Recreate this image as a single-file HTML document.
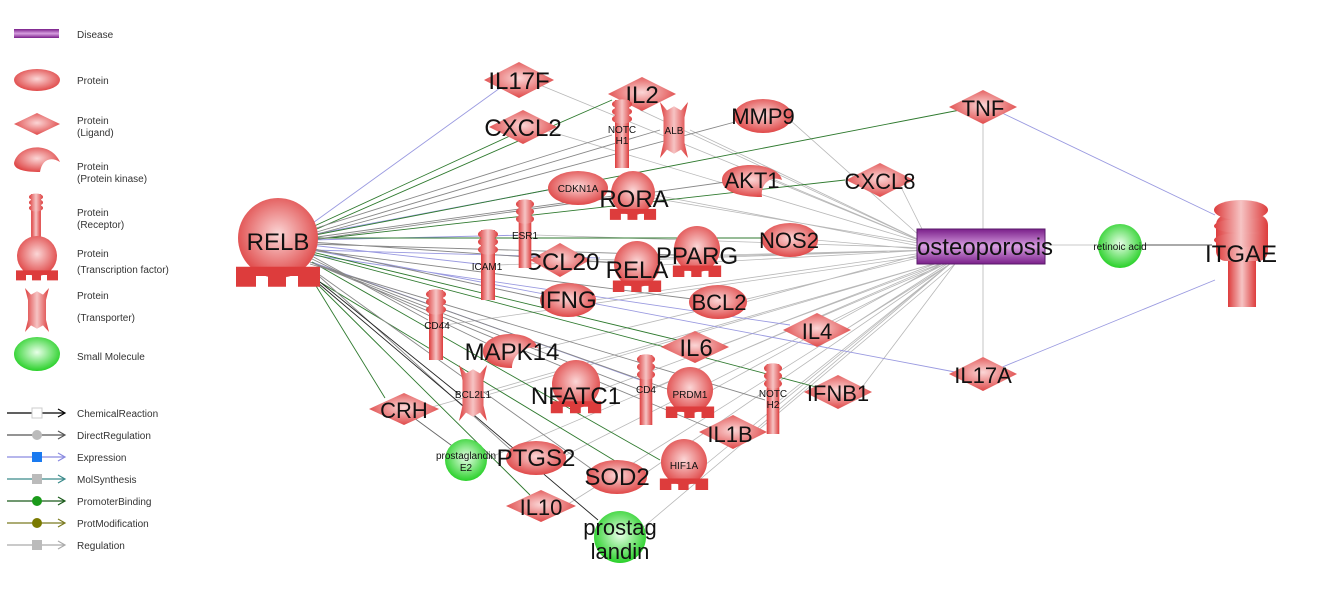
<!DOCTYPE html>
<html><head><meta charset="utf-8"><style>
html,body{margin:0;padding:0;background:#fff;}
svg{display:block;font-family:"Liberation Sans",sans-serif;}
</style></head><body>
<svg width="1318" height="593" viewBox="0 0 1318 593" xmlns="http://www.w3.org/2000/svg">
<defs>
<radialGradient id="r" cx="0.5" cy="0.45" r="0.6"><stop offset="0" stop-color="#fbd6d6"/><stop offset="1" stop-color="#dd3c3c"/></radialGradient>
<linearGradient id="rh" x1="0" y1="0" x2="1" y2="0"><stop offset="0" stop-color="#dd3c3c"/><stop offset="0.5" stop-color="#f6c4c4"/><stop offset="1" stop-color="#dd3c3c"/></linearGradient>
<radialGradient id="g" cx="0.5" cy="0.45" r="0.6"><stop offset="0" stop-color="#e8ffe8"/><stop offset="1" stop-color="#18cc18"/></radialGradient>
<linearGradient id="p" x1="0" y1="0" x2="0" y2="1"><stop offset="0" stop-color="#7a1f8a"/><stop offset="0.5" stop-color="#d79ee0"/><stop offset="1" stop-color="#7a1f8a"/></linearGradient>
<g id="tf"><circle cx="0" cy="0" r="1" fill="url(#r)"/><path d="M-1.05,0.72H1.05V1.22H0.5V0.95H0.2V1.22H-0.25V0.95H-0.55V1.22H-1.05Z" fill="#dd3c3c"/></g>
<g id="rec"><rect x="-0.7" y="0" width="1.4" height="1" fill="url(#rh)"/><ellipse cx="0" cy="0.06" rx="1" ry="0.07" fill="url(#rh)"/><ellipse cx="0" cy="0.17" rx="1" ry="0.07" fill="url(#rh)"/><ellipse cx="0" cy="0.28" rx="1" ry="0.07" fill="url(#rh)"/></g>
<g id="tr"><path d="M-1,-1 L-0.5,-0.7 L0,-0.85 L0.5,-0.7 L1,-1 L0.75,-0.45 L0.75,0.45 L1,1 L0.5,0.7 L0,0.85 L-0.5,0.7 L-1,1 L-0.75,0.45 L-0.75,-0.45Z" fill="url(#rh)"/></g>
</defs>

<!-- Legend -->
<g font-size="10" fill="#333">
<rect x="14" y="29" width="45" height="9" fill="url(#p)"/><text x="77" y="38">Disease</text>
<ellipse cx="37" cy="80" rx="23" ry="11" fill="url(#r)"/><text x="77" y="84">Protein</text>
<polygon points="14,124 37,113 60,124 37,135" fill="url(#r)"/><text x="77" y="124">Protein</text><text x="77" y="136">(Ligand)</text>
<path d="M14,163 C18,145 50,140 60,162 C50,156 42,160 40,172 C26,172 14,170 14,163Z" fill="url(#r)"/><text x="77" y="170">Protein</text><text x="77" y="182">(Protein kinase)</text>
<g transform="translate(36,194) scale(7,50)"><use href="#rec"/></g><text x="77" y="216">Protein</text><text x="77" y="228">(Receptor)</text>
<g transform="translate(37,256) scale(20,20)"><use href="#tf"/></g><text x="77" y="257">Protein</text><text x="77" y="273">(Transcription factor)</text>
<g transform="translate(37,310) scale(12,22)"><use href="#tr"/></g><text x="77" y="299">Protein</text><text x="77" y="321">(Transporter)</text>
<ellipse cx="37" cy="354" rx="23" ry="17" fill="url(#g)"/><text x="77" y="360">Small Molecule</text>
<g stroke-width="1.2" fill="none">
<line x1="7" y1="413" x2="64" y2="413" stroke="#000"/><path d="M58,409 L65,413 L58,417" stroke="#000"/>
<line x1="7" y1="435" x2="64" y2="435" stroke="#555"/><path d="M58,431 L65,435 L58,439" stroke="#555"/>
<line x1="7" y1="457" x2="64" y2="457" stroke="#8a8ae0"/><path d="M58,453 L65,457 L58,461" stroke="#8a8ae0"/>
<line x1="7" y1="479" x2="64" y2="479" stroke="#3a8a8a"/><path d="M58,475 L65,479 L58,483" stroke="#3a8a8a"/>
<line x1="7" y1="501" x2="64" y2="501" stroke="#1a5a1a"/><path d="M58,497 L65,501 L58,505" stroke="#1a5a1a"/>
<line x1="7" y1="523" x2="64" y2="523" stroke="#7a7a20"/><path d="M58,519 L65,523 L58,527" stroke="#7a7a20"/>
<line x1="7" y1="545" x2="64" y2="545" stroke="#aaa"/><path d="M58,541 L65,545 L58,549" stroke="#aaa"/>
</g>
<rect x="32" y="408" width="10" height="10" fill="#fff" stroke="#ccc"/>
<circle cx="37" cy="435" r="5" fill="#bbb"/>
<rect x="32" y="452" width="10" height="10" fill="#1a7af0"/>
<rect x="32" y="474" width="10" height="10" fill="#bbb"/>
<circle cx="37" cy="501" r="5" fill="#1a9a1a"/>
<circle cx="37" cy="523" r="5" fill="#7a7a00"/>
<rect x="32" y="540" width="10" height="10" fill="#bbb"/>
<text x="77" y="417">ChemicalReaction</text><text x="77" y="439">DirectRegulation</text><text x="77" y="461">Expression</text><text x="77" y="483">MolSynthesis</text><text x="77" y="505">PromoterBinding</text><text x="77" y="527">ProtModification</text><text x="77" y="549">Regulation</text>
</g>

<!-- edges to osteoporosis -->
<g stroke="#b8b8b8" stroke-width="0.8" fill="none">
<path d="M540,85L930,245 M545,130L930,245 M640,110L930,245 M690,130L930,245 M790,120L930,245 M605,190L930,245 M655,195L930,248 M775,180L930,245 M900,185L930,245 M535,235L930,248 M497,265L930,250 M590,260L930,250 M660,265L930,250 M720,255L930,250 M815,240L930,250 M595,300L930,252 M745,302L930,252 M845,330L950,262 M445,325L930,255 M535,350L930,255 M720,346L940,262 M600,390L945,262 M655,388L945,262 M712,390L945,262 M780,400L950,264 M860,390L955,264 M487,395L940,262 M425,409L940,262 M755,430L950,264 M484,460L945,264 M560,458L945,264 M640,477L950,264 M705,465L950,264 M565,506L950,264 M640,530L955,264"/>
<line x1="983" y1="124" x2="983" y2="229"/><line x1="983" y1="357" x2="983" y2="264"/>
<line x1="1098" y1="245" x2="1045" y2="245"/>
</g>
<!-- edges from RELB -->
<g stroke-width="0.9" fill="none">
<path stroke="#9a9ae0" d="M310,225L500,88 M310,235L548,190 M310,240L525,235 M310,245L487,265 M312,255L790,325 M312,250L955,372 M312,250L600,258 M312,262L640,380"/>
<path stroke="#2f7a2f" d="M310,228L512,135 M310,232L612,100 M310,236L960,110 M310,238L770,238 M310,240L845,180 M312,252L690,343 M312,254L820,388 M305,268L385,398 M305,272L530,495 M312,262L660,460 M300,270L630,470"/>
<path stroke="#888" d="M310,230L612,135 M310,234L660,130 M310,238L620,195 M310,242L615,263 M310,244L675,255 M310,248L548,300 M310,250L700,300 M310,255L428,320 M310,258L490,345 M310,262L640,390 M310,262L670,390 M310,264L765,400 M310,262L715,430 M310,268L520,458 M310,268L600,475 M310,240L740,180 M310,236L735,122"/>
<path stroke="#222" d="M305,270L460,395 M305,272L598,520"/>
<path stroke="#9a9ae0" d="M1215,215L1000,112 M1215,280L1000,368"/>
<path stroke="#555" d="M1212,245L1140,245"/>
<path stroke="#666" d="M410,415L455,448"/>
</g>

<!-- Nodes -->
<g fill="#111" text-anchor="middle">
<g transform="translate(278,238) scale(40,40)"><use href="#tf"/></g>
<text x="278" y="250" font-size="24">RELB</text>
<polygon points="484,80 519,62 554,80 519,98" fill="url(#r)"/><text x="519" y="89" font-size="24">IL17F</text>
<polygon points="489,127 523,110 557,127 523,144" fill="url(#r)"/><text x="523" y="136" font-size="24">CXCL2</text>
<polygon points="608,94 642,77 676,94 642,111" fill="url(#r)"/><text x="642" y="103" font-size="24">IL2</text>
<polygon points="949,107 983,90 1017,107 983,124" fill="url(#r)"/><text x="983" y="116" font-size="22">TNF</text>
<polygon points="846,180 880,163 914,180 880,197" fill="url(#r)"/><text x="880" y="189" font-size="22">CXCL8</text>
<polygon points="530,260 560,243 590,260 560,277" fill="url(#r)"/><text x="562" y="270" font-size="24">CCL20</text>
<polygon points="783,330 817,313 851,330 817,347" fill="url(#r)"/><text x="817" y="339" font-size="22">IL4</text>
<polygon points="661,347 695,331 729,347 695,363" fill="url(#r)"/><text x="696" y="356" font-size="24">IL6</text>
<polygon points="949,374 983,357 1017,374 983,391" fill="url(#r)"/><text x="983" y="383" font-size="22">IL17A</text>
<polygon points="804,392 838,375 872,392 838,409" fill="url(#r)"/><text x="838" y="401" font-size="22">IFNB1</text>
<polygon points="369,409 404,393 439,409 404,425" fill="url(#r)"/><text x="404" y="418" font-size="22">CRH</text>
<polygon points="699,432 733,415 767,432 733,449" fill="url(#r)"/><text x="730" y="442" font-size="22">IL1B</text>
<polygon points="506,506 541,490 576,506 541,522" fill="url(#r)"/><text x="541" y="515" font-size="22">IL10</text>
<ellipse cx="763" cy="116" rx="29" ry="17" fill="url(#r)"/><text x="763" y="124" font-size="22">MMP9</text>
<ellipse cx="578" cy="188" rx="30" ry="17" fill="url(#r)"/><text x="578" y="192" font-size="10">CDKN1A</text>
<path d="M722,180 C722,160 778,160 782,180 C770,175 760,185 762,197 C740,197 722,192 722,180Z" fill="url(#r)"/><text x="752" y="188" font-size="22">AKT1</text>
<ellipse cx="790" cy="240" rx="28" ry="17" fill="url(#r)"/><text x="789" y="248" font-size="22">NOS2</text>
<ellipse cx="568" cy="300" rx="28" ry="17" fill="url(#r)"/><text x="568" y="308" font-size="24">IFNG</text>
<ellipse cx="718" cy="302" rx="29" ry="17" fill="url(#r)"/><text x="719" y="310" font-size="22">BCL2</text>
<path d="M483,350 C485,330 532,328 538,348 C525,345 512,355 512,368 C492,368 482,360 483,350Z" fill="url(#r)"/><text x="512" y="360" font-size="24">MAPK14</text>
<ellipse cx="536" cy="458" rx="30" ry="17" fill="url(#r)"/><text x="536" y="466" font-size="24">PTGS2</text>
<ellipse cx="617" cy="477" rx="30" ry="17" fill="url(#r)"/><text x="617" y="485" font-size="24">SOD2</text>
<g transform="translate(633,193) scale(22,22)"><use href="#tf"/></g><text x="634" y="207" font-size="24">RORA</text>
<g transform="translate(637,264) scale(23,23)"><use href="#tf"/></g><text x="637" y="278" font-size="24">RELA</text>
<g transform="translate(697,249) scale(23,23)"><use href="#tf"/></g><text x="697" y="264" font-size="24">PPARG</text>
<g transform="translate(576,384) scale(24,24)"><use href="#tf"/></g><text x="576" y="404" font-size="24">NFATC1</text>
<g transform="translate(690,390) scale(23,23)"><use href="#tf"/></g><text x="690" y="398" font-size="10">PRDM1</text>
<g transform="translate(684,462) scale(23,23)"><use href="#tf"/></g><text x="684" y="469" font-size="10">HIF1A</text>
<g transform="translate(622,100) scale(10,68)"><use href="#rec"/></g><text x="622" y="133" font-size="10">NOTC</text><text x="622" y="144" font-size="10">H1</text>
<g transform="translate(525,200) scale(9,68)"><use href="#rec"/></g><text x="525" y="239" font-size="10">ESR1</text>
<g transform="translate(488,230) scale(10,70)"><use href="#rec"/></g><text x="487" y="270" font-size="10">ICAM1</text>
<g transform="translate(436,290) scale(10,70)"><use href="#rec"/></g><text x="437" y="329" font-size="10">CD44</text>
<g transform="translate(646,355) scale(9,70)"><use href="#rec"/></g><text x="646" y="393" font-size="10">CD4</text>
<g transform="translate(773,364) scale(9,70)"><use href="#rec"/></g><text x="773" y="397" font-size="10">NOTC</text><text x="773" y="408" font-size="10">H2</text>
<!-- ITGAE -->
<rect x="1228" y="255" width="28" height="52" fill="url(#rh)"/>
<rect x="1216" y="215" width="52" height="46" rx="10" fill="url(#rh)"/>
<ellipse cx="1241" cy="210" rx="27" ry="10" fill="url(#rh)"/>
<ellipse cx="1241" cy="226" rx="27" ry="7" fill="url(#rh)"/>
<ellipse cx="1241" cy="240" rx="27" ry="7" fill="url(#rh)"/>
<text x="1241" y="262" font-size="24">ITGAE</text>
<g transform="translate(674,130) scale(14,28)"><use href="#tr"/></g><text x="674" y="134" font-size="10">ALB</text>
<g transform="translate(473,393) scale(14,28)"><use href="#tr"/></g><text x="473" y="398" font-size="10">BCL2L1</text>
<circle cx="1120" cy="246" r="22" fill="url(#g)"/><text x="1120" y="250" font-size="10">retinoic acid</text>
<circle cx="466" cy="460" r="21" fill="url(#g)"/><text x="466" y="459" font-size="10">prostaglandin</text><text x="466" y="471" font-size="10">E2</text>
<circle cx="620" cy="537" r="26" fill="url(#g)"/><text x="620" y="535" font-size="22">prostag</text><text x="620" y="559" font-size="22">landin</text>
<rect x="917" y="229" width="128" height="35" fill="url(#p)" stroke="#5a1a6a" stroke-width="1"/>
<text x="985" y="255" font-size="24">osteoporosis</text>
</g>
</svg>
</body></html>
